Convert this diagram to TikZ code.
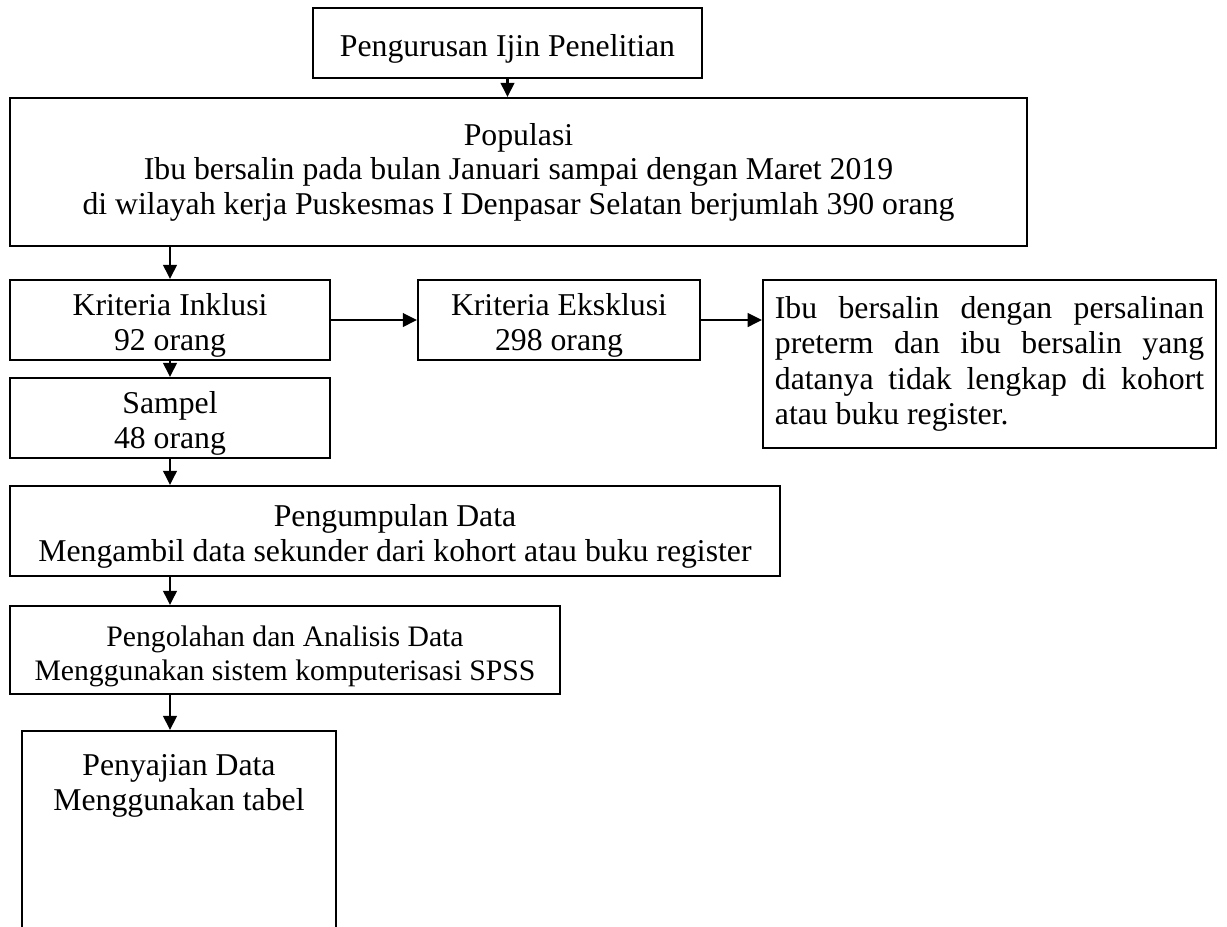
\documentclass[tikz,border=0pt]{standalone}
\usepackage{fontspec}
\setmainfont{Liberation Serif}
\usepackage{tikz}
\usetikzlibrary{arrows.meta,calc}
\newcommand{\turun}{\rule{0pt}{13pt}}

\begin{document}
\begin{tikzpicture}[x=0.01384cm, y=-0.01384cm,
  every node/.style={font=\fontsize{12.5}{13.6}\selectfont},
  kotak/.style={draw, line width=0.8pt, align=center, inner sep=0pt},
  panah/.style={-{Triangle[length=5.6pt,width=5.4pt]}, line width=0.8pt}]
\useasboundingbox (0,0) rectangle (1227,926);
\clip (0,0) rectangle (1227,926);
\node[kotak, minimum width=5.384cm, minimum height=0.969cm] (ijin) at (507.5,43) {\turun Pengurusan Ijin Penelitian};
\node[kotak, minimum width=14.075cm, minimum height=2.048cm] (pop) at (518.5,172)
  {Populasi\\Ibu bersalin pada bulan Januari sampai dengan Maret 2019\\di wilayah kerja Puskesmas I Denpasar Selatan berjumlah 390 orang};
\node[kotak, minimum width=4.429cm, minimum height=1.107cm] (inkl) at (170,320) {\turun Kriteria Inklusi\\92 orang};
\node[kotak, minimum width=3.903cm, minimum height=1.107cm] (eks) at (559,320) {\turun Kriteria Eksklusi\\298 orang};
\node[kotak, minimum width=6.270cm, minimum height=2.325cm, align=left, font=\fontsize{12.5}{13.9}\selectfont] (ibu) at (989.5,364)
  {\makebox[169pt][s]{Ibu bersalin dengan persalinan}\\
   \makebox[169pt][s]{preterm dan ibu bersalin yang}\\
   \makebox[169pt][s]{datanya tidak lengkap di kohort}\\
   \makebox[169pt][l]{atau buku register.}};
\node[kotak, minimum width=4.429cm, minimum height=1.107cm] (sampel) at (170,418) {\turun Sampel\\48 orang};
\node[kotak, minimum width=10.657cm, minimum height=1.246cm] (kumpul) at (395,531)
  {\turun Pengumpulan Data\\Mengambil data sekunder dari kohort atau buku register};
\node[kotak, minimum width=7.612cm, minimum height=1.218cm, font=\fontsize{11.7}{13.6}\selectfont] (olah) at (285,650)
  {\turun Pengolahan dan Analisis Data\\Menggunakan sistem komputerisasi SPSS};
\node[kotak, minimum width=4.346cm, minimum height=3.598cm, anchor=north] (saji) at (179,730) {};
\node[align=center] (sajiteks) at (179,786) {Penyajian Data\\Menggunakan tabel};
% panah
\draw[panah] (ijin.south) -- (ijin.south |- pop.north);
\draw[panah] (inkl.north |- pop.south) -- (inkl.north);
\draw[panah] (inkl.south) -- (sampel.north);
\draw[panah] (sampel.south) -- (sampel.south |- kumpul.north);
\draw[panah] (sampel.south |- kumpul.south) -- (sampel.south |- olah.north);
\draw[panah] (sampel.south |- olah.south) -- (sampel.south |- saji.north);
\draw[panah] (inkl.east) -- (eks.west);
\draw[panah] (eks.east) -- (ibu.west |- eks.east);
\end{tikzpicture}
\end{document}
